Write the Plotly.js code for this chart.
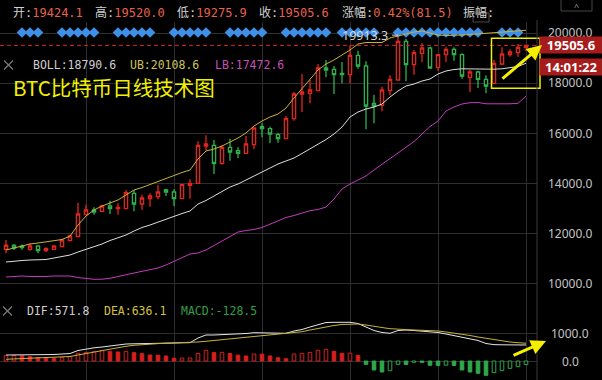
<!DOCTYPE html>
<html><head><meta charset="utf-8">
<script src="https://cdn.plot.ly/plotly-3.0.1.min.js"></script>
<style>html,body{margin:0;padding:0;background:#000;}#chart{width:602px;height:380px;}</style>
</head><body><div id="chart"></div>
<script>
// ---- data ----
const open = [11350,11507,11470,11347,11480,11293,11347,11453,11693,11853,
  12733,12920,12867,13080,12973,12973,13587,13160,13373,13453,
  13720,13640,13373,13907,13987,15480,15507,14787,15427,15293,
  15187,15533,16253,16173,15933,15773,16573,17560,17587,17693,
  18600,18547,18387,18333,19107,18680,17187,17107,17693,18120,
  19667,18733,19187,19400,18627,19133,19347,19133,18227,18440,
  18147,17987,18760,19133,19213,19424.1];
const high = [11720,11560,11540,11587,11507,11427,11507,11773,11933,13213,
  13133,13027,13133,13293,13187,13720,13720,13533,13587,13933,
  13773,13747,13960,14147,15667,15907,15720,15507,15773,15427,
  15880,16227,16387,16253,16013,16680,17640,18360,18120,18760,
  18920,18680,18840,19507,19293,18867,17533,17853,18307,19913.3,
  19773,19320,19587,19453,19133,19453,19427,19187,18520,18493,
  18307,18920,19427,19347,19560,19520.0];
const low = [11190,11320,11330,11293,11187,11240,11320,11427,11693,11853,
  12707,12733,12867,12760,12733,12973,12867,12920,13053,13347,
  13480,13080,13373,13373,13987,15293,14360,14733,14893,15000,
  15187,15347,15827,15587,15613,15747,16493,16840,17187,17693,
  18227,17560,17987,17987,18573,16147,16387,16867,17507,18120,
  18067,18333,18840,18573,18493,18840,18893,18173,17640,17800,
  17587,17987,18707,19053,19053,19275.9];
const close = [11510,11400,11420,11480,11293,11373,11480,11720,11880,12760,
  12920,12840,13080,12973,13027,13613,13160,13400,13480,13640,
  13640,13373,13933,13987,15507,15560,14787,15427,15240,15187,
  15560,16200,16173,15960,15773,16573,17560,17640,17720,18600,
  18520,18333,18333,19107,18680,17080,17080,17720,18147,19667,
  18733,19213,19400,18600,19133,19347,19133,18280,18440,18147,
  17880,18787,19160,19240,19424.1,19505.6];
const boll = [10840,10880,10900,10920,10928,10940,11000,11060,11120,11240,
  11340,11440,11560,11700,11800,11920,12080,12220,12320,12440,
  12540,12660,12780,12880,13160,13300,13480,13680,13840,13960,
  14120,14280,14460,14600,14760,14880,15000,15180,15360,15560,
  15740,15960,16240,16640,16840,16960,17040,17160,17440,17680,
  17880,17960,18080,18160,18360,18480,18540,18568,18560,18548,
  18548,18552,18568,18600,18660,18790.6];
const ub = [11320,11400,11480,11560,11600,11640,11680,11740,11880,12320,
  12680,12920,13080,13200,13320,13520,13720,13820,13940,14080,
  14200,14320,14420,14520,14960,15280,15360,15480,15640,15800,
  16000,16280,16480,16640,16760,17000,17400,17760,18120,18520,
  18760,18920,19120,19320,19560,19620,19620,19620,19800,19880,
  19960,20040,20080,20000,19920,19900,19900,19920,19940,19960,
  19980,20000,20020,20060,20080,20108.6];
const lb = [10240,10260,10280,10260,10252,10260,10280,10288,10280,10220,
  10180,10148,10152,10188,10260,10340,10400,10468,10540,10600,
  10720,10860,11000,11160,11200,11320,11500,11680,11880,12040,
  12100,12140,12220,12360,12500,12620,12700,12800,12892,12940,
  13040,13360,13760,13960,14120,14280,14520,14760,14980,15200,
  15440,15660,15960,16260,16480,16880,17040,17160,17212,17220,
  17168,17160,17160,17168,17188,17472.6];
const dif = [214,214,214,214,214,214,232,250,268,375,
  429,471,500,536,579,607,614,625,632,636,
  643,643,650,654,821,929,929,939,946,964,
  982,1011,1000,1000,993,989,1071,1125,1214,1304,
  1375,1382,1382,1382,1339,1214,1089,1018,989,1089,
  1107,1089,1071,1054,1018,964,911,857,786,732,
  625,585,578,575,572,571.8];
const dea = [61,79,96,107,118,125,136,143,161,214,
  268,321,375,429,482,525,561,589,607,621,
  636,643,650,661,679,704,732,750,775,804,
  839,875,911,929,964,989,1000,1046,1107,1168,
  1232,1268,1304,1321,1321,1286,1232,1196,1154,1132,
  1125,1107,1096,1089,1071,1036,1000,964,911,857,
  811,768,714,679,654,636.1];
const macd = [190,195,188,155,119,107,95,119,155,274,
  309,333,369,345,321,345,298,262,214,208,
  178,100,105,110,270,380,300,310,270,210,
  180,250,245,180,115,80,250,274,309,381,
  416,345,274,280,202,-119,-321,-393,-345,-119,
  -125,-45,-50,-155,-160,-150,-160,-321,-393,-440,
  -512,-417,-345,-262,-202,-128.5];
const signalDays = [2,3,4,7,8,9,10,11,14,15,16,17,18,21,22,23,24,25,28,29,30,31,32,
  35,36,37,38,39,40,42,43,44,45,46,49,50,51,52,53,54,55,56,57,58,59,62,63,64];
const priceTicks = [10000,12000,14000,16000,18000,20000];
const macdTicks = [0,1000];
const gridDays = [10,21,32,43,54,65];
const clockText = '14:01:22';

// ---- helpers / styles ----
const day = open.map((_, i) => i);
const n = day.length - 1;
const W = 537, H = 380;
const px = v => v / W;
const py = v => (H - v) / H;
const RED = '#e0251f', GREEN = '#2cb24b';
const GRID = '#2e2e2e';
const MONO = 'DejaVu Sans Mono, Noto Sans CJK SC, monospace';
const SANS = 'Noto Sans, Noto Sans CJK SC, sans-serif';
const SIGNAL_ROW = 20020;

const barColor = macd.map(v => v >= 0 ? '#d81e1e' : '#2ea84a');
const barFill = macd.map((v, i) => (i === 0 || v >= macd[i-1]) ? '#000' : barColor[i]);

const traces = [
  {type:'scatter', mode:'markers', x: signalDays, y: signalDays.map(() => SIGNAL_ROW),
   marker:{symbol:'diamond', size:8.2, color:'#3f8fe6', line:{width:0}}, hoverinfo:'skip', xaxis:'x', yaxis:'y'},
  {type:'candlestick', x: day, open: open, high: high, low: low, close: close,
   increasing:{line:{color:RED, width:1.3}, fillcolor:'#000'},
   decreasing:{line:{color:GREEN, width:1.3}, fillcolor:'#000'},
   whiskerwidth:0, hoverinfo:'skip', xaxis:'x', yaxis:'y'},
  {type:'scatter', mode:'lines', x: day, y: boll, line:{color:'#dedede', width:1}, hoverinfo:'skip'},
  {type:'scatter', mode:'lines', x: day, y: ub, line:{color:'#c9b33a', width:1}, hoverinfo:'skip'},
  {type:'scatter', mode:'lines', x: day, y: lb, line:{color:'#c23cbf', width:1}, hoverinfo:'skip'},
  {type:'bar', x: day, y: macd, width:0.45, marker:{color: barFill, line:{color: barColor, width:1}},
   hoverinfo:'skip', xaxis:'x2', yaxis:'y2'},
  {type:'scatter', mode:'lines', x: day, y: dif, line:{color:'#e6e6e6', width:1}, hoverinfo:'skip', xaxis:'x2', yaxis:'y2'},
  {type:'scatter', mode:'lines', x: day, y: dea, line:{color:'#c9b33a', width:1}, hoverinfo:'skip', xaxis:'x2', yaxis:'y2'}
];

// axis pixel mapping: main panel pixel 22..297, lower panel 297..380
const mainTop = 22, split = 297;
const mainRange = [20000 - (split - 33) * 40, 20000 + (33 - mainTop) * 40];
const macdRange = [(361 - 380) / 0.028, (361 - split) / 0.028];

const ann = [];
// top info row
const chg = close[n] - close[n-1];
const pct = chg / close[n-1] * 100;
const info = [
  ['开', open[n].toFixed(1), 10.8],
  ['高', high[n].toFixed(1), 93],
  ['低', low[n].toFixed(1), 175],
  ['收', close[n].toFixed(1), 257],
  ['涨幅', pct.toFixed(2) + '%(' + chg.toFixed(1) + ')', 340],
  ['振幅', '', 461]
];
info.forEach(([k, v, x]) => ann.push({xref:'paper', yref:'paper', x: px(x), y: py(12.5), xanchor:'left', yanchor:'middle',
  showarrow:false, text:'<span style="color:#d2d2d2">' + k + ':</span><span style="color:#e8604e">' + v + '</span>',
  font:{family: MONO, size:12}}));

// BOLL legend
[['BOLL:' + boll[n].toFixed(1), '#cfcfcf', 30.5], ['UB:' + ub[n].toFixed(1), '#cfc35a', 128], ['LB:' + lb[n].toFixed(1), '#c850b8', 213]]
 .forEach(([t, c, x]) => ann.push({xref:'paper', yref:'paper', x: px(x), y: py(65), xanchor:'left', yanchor:'middle', showarrow:false,
   text: t, font:{family: MONO, size:11.5, color: c}}));
// MACD legend
[['DIF:' + dif[n].toFixed(1), '#cfcfcf', 25], ['DEA:' + dea[n].toFixed(1), '#d4c23e', 102], ['MACD:' + macd[n].toFixed(1), '#2f9f4a', 179]]
 .forEach(([t, c, x]) => ann.push({xref:'paper', yref:'paper', x: px(x), y: py(311), xanchor:'left', yanchor:'middle', showarrow:false,
   text: t, font:{family: MONO, size:11.5, color: c}}));

// title
ann.push({xref:'paper', yref:'paper', x: px(11), y: py(87), xanchor:'left', yanchor:'middle', showarrow:false,
  text:'BTC比特币日线技术图', font:{family:'Noto Sans CJK SC, sans-serif', size:20.5, color:'#f2f200'}});

// right axis labels
priceTicks.forEach(t => ann.push({xref:'paper', yref:'y', x: px(570), y: t, xanchor:'center', yanchor:'middle', showarrow:false,
  text: t.toFixed(1), font:{family: SANS, size:12, color:'#c4c4c4'}}));
macdTicks.forEach(t => ann.push({xref:'paper', yref:'y2', x: px(570), y: t, xanchor:'center', yanchor:'middle', showarrow:false,
  text: t.toFixed(1), font:{family: SANS, size:12, color:'#c4c4c4'}}));

// highest price marker
const hiIdx = high.indexOf(Math.max(...high));
ann.push({xref:'paper', yref:'y', x: px(390), y: high[hiIdx], xanchor:'right', yanchor:'middle', showarrow:false,
  text: high[hiIdx].toFixed(1), font:{family: SANS, size:12.5, color:'#d6d6d6'}});

// price / clock boxes
ann.push({xref:'paper', yref:'y', x: px(570.5), y: close[n], xanchor:'center', yanchor:'middle', showarrow:false,
  text:'<b>' + close[n].toFixed(1) + '</b>', bgcolor:'#a61c1c', width:61, height:15, borderpad:0.5,
  font:{family: SANS, size:13, color:'#ffffff'}});
ann.push({xref:'paper', yref:'paper', x: px(570.5), y: py(67), xanchor:'center', yanchor:'middle', showarrow:false,
  text:'<b>' + clockText + '</b>', bgcolor:'#a61c1c', width:61, height:15, borderpad:0.5,
  font:{family: SANS, size:13, color:'#ffffff'}});

// collapse button
ann.push({xref:'paper', yref:'paper', x: px(576.5), y: py(6), xanchor:'center', yanchor:'middle', showarrow:false,
  text:'^', font:{family: SANS, size:9, color:'#9a9a9a'}});

// yellow arrows
ann.push({xref:'paper', yref:'paper', x: px(542), y: py(45), ax:-41, ay:35, axref:'pixel', ayref:'pixel', text:'',
  showarrow:true, arrowhead:2, arrowsize:1, arrowwidth:3, arrowcolor:'#f5f000'});
ann.push({xref:'paper', yref:'paper', x: px(546), y: py(341), ax:-34, ay:15, axref:'pixel', ayref:'pixel', text:'',
  showarrow:true, arrowhead:2, arrowsize:1, arrowwidth:3, arrowcolor:'#f5f000'});

const shapes = [
  {type:'line', xref:'paper', yref:'y', x0:0, x1:1, y0: close[n], y1: close[n], line:{color:'#d62828', width:1, dash:'4px,3px'}},
  {type:'rect', xref:'paper', yref:'paper', x0: px(491.5), x1: px(540), y0: py(88.3), y1: py(38.3), line:{color:'#f0f000', width:1.5}},
  {type:'line', xref:'paper', yref:'paper', x0:1, x1:1, y0:0, y1: py(20), line:{color:'#3a3a3a', width:1}},
  {type:'line', xref:'paper', yref:'y', x0: px(392), x1: px(398), y0: high[hiIdx], y1: high[hiIdx], line:{color:'#d6d6d6', width:1}},
  {type:'rect', xref:'paper', yref:'paper', x0: px(473), x1: px(489), y0: py(22), y1: py(13), line:{color:'#4a4a4a', width:1}},
  {type:'rect', xref:'paper', yref:'paper', x0: px(561), x1: px(592), y0: py(11), y1: py(-2), line:{color:'#444', width:1}},
  {type:'line', xref:'paper', yref:'paper', x0: px(4), x1: px(13), y0: py(60.5), y1: py(69.5), line:{color:'#7a7a7a', width:1.2}},
  {type:'line', xref:'paper', yref:'paper', x0: px(4), x1: px(13), y0: py(69.5), y1: py(60.5), line:{color:'#7a7a7a', width:1.2}},
  {type:'line', xref:'paper', yref:'paper', x0: px(3), x1: px(12), y0: py(306.5), y1: py(315.5), line:{color:'#7a7a7a', width:1.2}},
  {type:'line', xref:'paper', yref:'paper', x0: px(3), x1: px(12), y0: py(315.5), y1: py(306.5), line:{color:'#7a7a7a', width:1.2}}
];

const xCommon = {range:[-0.75, (W - 6) / 8], showticklabels:false, ticks:'', tickvals: gridDays, showgrid:true,
  gridcolor: GRID, gridwidth:1, zeroline:false, showline:false, fixedrange:true};

const layout = {
  width:602, height:380, margin:{l:0, r:602 - W, t:0, b:0},
  paper_bgcolor:'#000', plot_bgcolor:'#000', showlegend:false, boxgap:0.42, bargap:0,
  xaxis: Object.assign({}, xCommon, {anchor:'y', rangeslider:{visible:false}}),
  xaxis2: Object.assign({}, xCommon, {anchor:'y2', matches:'x'}),
  yaxis: {domain:[py(split), py(mainTop)], range: mainRange, tickvals: priceTicks, showticklabels:false, ticks:'',
    showgrid:true, gridcolor: GRID, zeroline:false, showline:false, fixedrange:true},
  yaxis2: {domain:[0, py(split)], range: macdRange, tickvals: macdTicks, showticklabels:false, ticks:'',
    showgrid:true, gridcolor: GRID, zeroline:false, showline:false, fixedrange:true},
  annotations: ann, shapes: shapes
};

Plotly.newPlot('chart', traces, layout, {displayModeBar:false, staticPlot:true});
</script></body></html>
